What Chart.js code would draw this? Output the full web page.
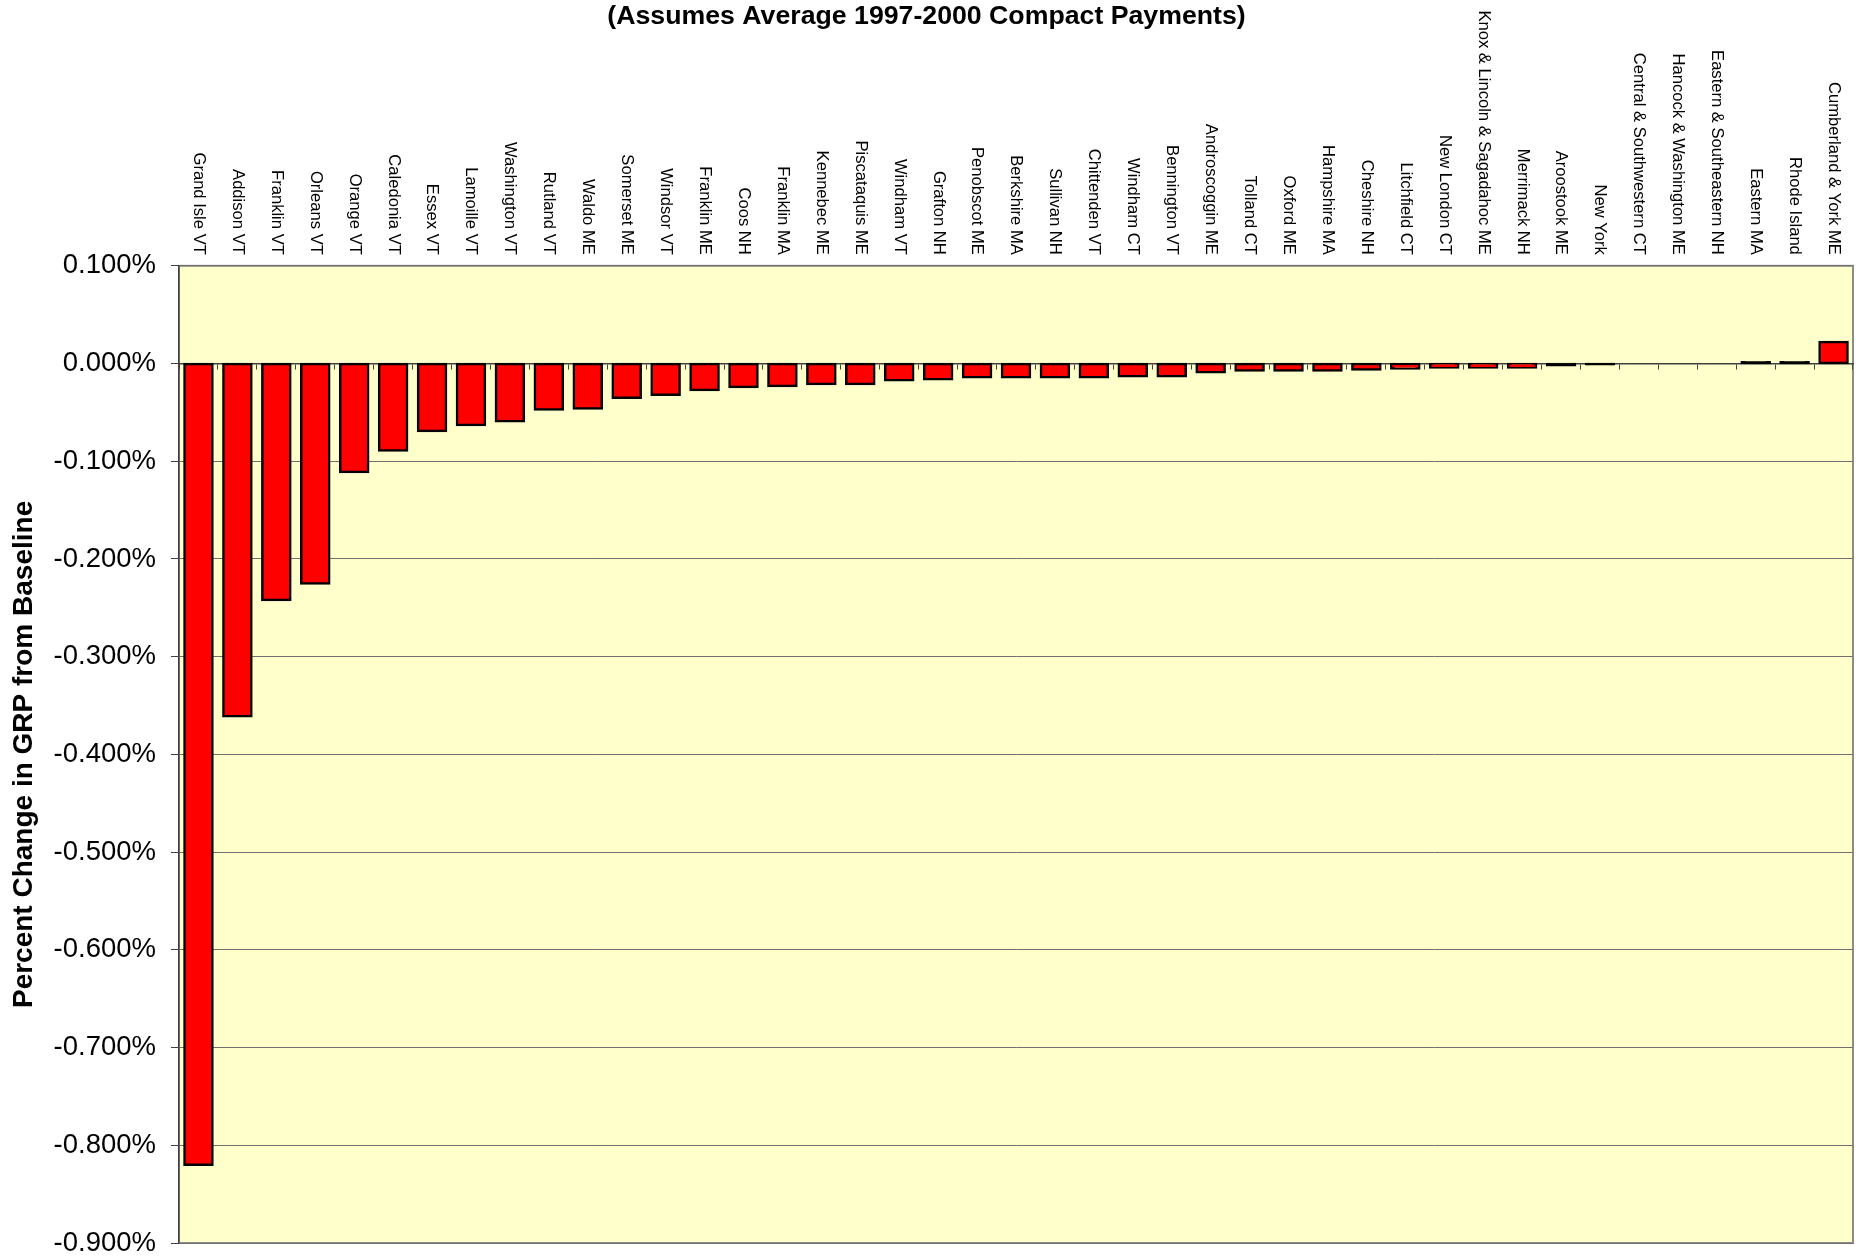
<!DOCTYPE html>
<html>
<head>
<meta charset="utf-8">
<title>Percent Change in GRP from Baseline</title>
<script src="https://cdn.jsdelivr.net/npm/chart.js@4.4.1/dist/chart.umd.min.js"></script>
<style>
  html, body { margin: 0; padding: 0; background: #ffffff; }
  canvas { display: block; }
</style>
</head>
<body>
<canvas id="grpChart" width="1864" height="1257"></canvas>
<script>
// Regions, ordered from largest loss to largest gain
const regions = [
  'Grand Isle VT', 'Addison VT', 'Franklin VT', 'Orleans VT', 'Orange VT',
  'Caledonia VT', 'Essex VT', 'Lamoille VT', 'Washington VT', 'Rutland VT',
  'Waldo ME', 'Somerset ME', 'Windsor VT', 'Franklin ME', 'Coos NH',
  'Franklin MA', 'Kennebec ME', 'Piscataquis ME', 'Windham VT', 'Grafton NH',
  'Penobscot ME', 'Berkshire MA', 'Sullivan NH', 'Chittenden VT', 'Windham CT',
  'Bennington VT', 'Androscoggin ME', 'Tolland CT', 'Oxford ME', 'Hampshire MA',
  'Cheshire NH', 'Litchfield CT', 'New London CT', 'Knox & Lincoln & Sagadahoc ME', 'Merrimack NH',
  'Aroostook ME', 'New York', 'Central & Southwestern CT', 'Hancock & Washington ME', 'Eastern & Southeastern NH',
  'Eastern MA', 'Rhode Island', 'Cumberland & York ME'
];

// Percent change in gross regional product from baseline (%)
const grpChange = [
  -0.820, -0.361, -0.242, -0.225, -0.111,
  -0.089, -0.069, -0.063, -0.059, -0.047,
  -0.046, -0.035, -0.032, -0.027, -0.024,
  -0.023, -0.021, -0.021, -0.017, -0.016,
  -0.014, -0.014, -0.014, -0.014, -0.013,
  -0.013, -0.009, -0.007, -0.007, -0.007,
  -0.006, -0.005, -0.004, -0.004, -0.004,
  -0.0017, -0.0006, null, null, null,
  0.0013, 0.0013, 0.022
];

// Value axis range and tick spacing (%)
const yMin = -0.9;
const yMax = 0.1;
const yStep = 0.1;

const chartTitle = '(Assumes Average 1997-2000 Compact Payments)';
const yAxisTitle = 'Percent Change in GRP from Baseline';

const FONT = '"Liberation Sans", Arial, Helvetica, sans-serif';
const BAR_BORDER = 2.5;

// Pale plot-area fill and grey frame, painted beneath grid and bars
const plotBackground = {
  id: 'plotBackground',
  beforeDraw(chart) {
    const { ctx, chartArea: { left, top, right, bottom } } = chart;
    ctx.save();
    ctx.fillStyle = '#FFFFCC';
    ctx.fillRect(left, top, right - left, bottom - top);
    ctx.strokeStyle = '#8c8c8c';
    ctx.lineWidth = 2;
    ctx.strokeRect(left, top, right - left, bottom - top);
    ctx.restore();
  }
};

// Region names set vertically above the plot, reading top to bottom
const regionLabels = {
  id: 'regionLabels',
  afterDraw(chart) {
    const { ctx, chartArea } = chart;
    const xs = chart.scales.x;
    ctx.save();
    ctx.font = '16.6px ' + FONT;
    ctx.fillStyle = '#000000';
    ctx.textAlign = 'right';
    ctx.textBaseline = 'middle';
    chart.data.labels.forEach((name, i) => {
      const x = xs.getPixelForValue(i);
      ctx.save();
      ctx.translate(x, chartArea.top - 11);
      ctx.rotate(Math.PI / 2);
      ctx.fillText(name, 0, 0);
      ctx.restore();
    });
    ctx.restore();
  }
};

// Bars thinner than their outline show only the outline colour
function barFill(ctx) {
  const v = ctx.raw;
  const ys = ctx.chart.scales.y;
  if (v == null || !ys) return '#FF0000';
  const h = Math.abs(ys.getPixelForValue(v) - ys.getPixelForValue(0));
  return h < BAR_BORDER ? '#000000' : '#FF0000';
}

new Chart(document.getElementById('grpChart'), {
  type: 'bar',
  data: {
    labels: regions,
    datasets: [{
      data: grpChange,
      backgroundColor: barFill,
      borderColor: '#000000',
      borderWidth: BAR_BORDER,
      borderSkipped: false,
      inflateAmount: BAR_BORDER / 2,
      barPercentage: 0.72,
      categoryPercentage: 1.0
    }]
  },
  options: {
    responsive: false,
    animation: false,
    devicePixelRatio: 1,
    layout: { padding: { left: 0, right: 11, top: 0, bottom: 14 } },
    plugins: {
      legend: { display: false },
      tooltip: { enabled: false },
      title: {
        display: true,
        text: chartTitle,
        color: '#000000',
        font: { family: FONT, size: 26.7, weight: 'bold', lineHeight: 1.2 },
        padding: { top: 1, bottom: 232.8 }
      }
    },
    scales: {
      x: {
        type: 'category',
        position: { y: 0 },
        offset: true,
        // the category axis sits on the zero line and takes no layout space
        afterFit(scale) { scale.height = 0; },
        ticks: { display: false },
        grid: {
          offset: true,
          drawOnChartArea: false,
          drawTicks: true,
          tickLength: 5,
          tickColor: '#404040',
          tickWidth: 1
        },
        border: { display: true, color: '#404040', width: 1.5 }
      },
      y: {
        position: 'left',
        min: yMin,
        max: yMax,
        afterFit(scale) {
          scale.width = 179;
          // end labels may overhang the plot edges; keep them from shrinking it
          scale.paddingTop = 0;
          scale.paddingBottom = 0;
        },
        ticks: {
          stepSize: yStep,
          padding: 15,
          color: '#000000',
          font: { family: FONT, size: 27.5 },
          callback: (v) => (Math.abs(v) < 1e-9 ? 0 : v).toFixed(3) + '%'
        },
        grid: {
          color: '#707070',
          lineWidth: 1,
          drawTicks: true,
          tickLength: 8,
          tickColor: '#404040'
        },
        border: { display: true, color: '#404040', width: 1.5 },
        title: {
          display: true,
          text: yAxisTitle,
          color: '#000000',
          font: { family: FONT, size: 28, weight: 'bold', lineHeight: 1.2 },
          padding: { top: 7.5, bottom: 0 }
        }
      }
    }
  },
  plugins: [plotBackground, regionLabels]
});
</script>
</body>
</html>
